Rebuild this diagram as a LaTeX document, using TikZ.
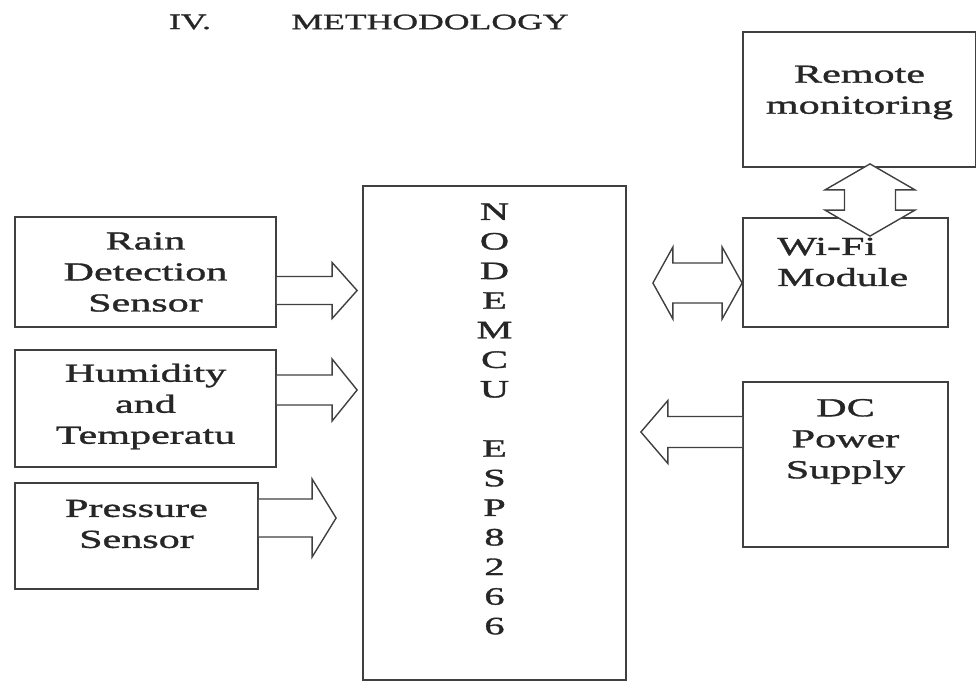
\documentclass[tikz,border=0pt]{standalone}
\usepackage{fontspec}
\setmainfont{Liberation Serif}[FakeStretch=1.62,FakeBold=1.3]
\usetikzlibrary{calc}

\tikzset{
  blk/.style={draw=black!75, line width=1.8pt, inner sep=0pt},
  lbl/.style={align=center, inner sep=0pt, text=black!85,
    font=\fontsize{26}{31}\selectfont},
  fat/.style={draw=black!75, line width=1.4pt, fill=white, line join=miter},
}

% block arrows: #1 tail, #2 tip, #3 half shaft, #4 half head, #5 head length
\newcommand{\rarr}[5]{%
  \draw[fat] let \p1=#1, \p2=#2 in
    (\x1,\y2+#3pt) -- (\x2-#5pt,\y2+#3pt) -- (\x2-#5pt,\y2+#4pt) -- (\x2,\y2)
    -- (\x2-#5pt,\y2-#4pt) -- (\x2-#5pt,\y2-#3pt) -- (\x1,\y2-#3pt);}
\newcommand{\larr}[5]{%
  \draw[fat] let \p1=#1, \p2=#2 in
    (\x1,\y2+#3pt) -- (\x2+#5pt,\y2+#3pt) -- (\x2+#5pt,\y2+#4pt) -- (\x2,\y2)
    -- (\x2+#5pt,\y2-#4pt) -- (\x2+#5pt,\y2-#3pt) -- (\x1,\y2-#3pt);}
% double arrows: #1 and #2 are the two tips
\newcommand{\harr}[5]{%
  \draw[fat] let \p1=#1, \p2=#2 in
    (\x1,\y2) -- (\x1+#5pt,\y2+#4pt) -- (\x1+#5pt,\y2+#3pt) -- (\x2-#5pt,\y2+#3pt)
    -- (\x2-#5pt,\y2+#4pt) -- (\x2,\y2) -- (\x2-#5pt,\y2-#4pt) -- (\x2-#5pt,\y2-#3pt)
    -- (\x1+#5pt,\y2-#3pt) -- (\x1+#5pt,\y2-#4pt) -- cycle;}
\newcommand{\varr}[5]{%
  \draw[fat] let \p1=#1, \p2=#2 in
    (\x1,\y1) -- (\x1+#4pt,\y1-#5pt) -- (\x1+#3pt,\y1-#5pt) -- (\x1+#3pt,\y2+#5pt)
    -- (\x1+#4pt,\y2+#5pt) -- (\x1,\y2) -- (\x1-#4pt,\y2+#5pt) -- (\x1-#3pt,\y2+#5pt)
    -- (\x1-#3pt,\y1-#5pt) -- (\x1-#4pt,\y1-#5pt) -- cycle;}

\begin{document}
\begin{tikzpicture}[x=1pt,y=-1pt]
\useasboundingbox (0,0) rectangle (976,683);

% heading
\node[lbl, font=\fontsize{22}{26}\selectfont] (secno) at (190,22) {IV.};
\node[lbl, font=\fontsize{22}{26}\selectfont] (sectitle) at (430,22) {METHODOLOGY};

% sensors
\node[blk, minimum width=261, minimum height=110] (rain) at (145.5,272) {};
\node[lbl] (rainT) at (rain.center) {Rain\\Detection\\Sensor};
\node[blk, minimum width=261, minimum height=117] (humid) at (145.5,408.5) {};
\node[lbl] (humidT) at ([yshift=2pt]humid.center) {Humidity\\and\\Temperatu};
\node[blk, minimum width=243, minimum height=106] (press) at (136.5,536) {};
\node[lbl] (pressT) at ([yshift=12pt]press.center) {Pressure\\Sensor};

% controller
\node[blk, minimum width=263, minimum height=494] (mcu) at (494.5,433) {};
\node[lbl, font=\fontsize{25}{29.6}\selectfont] (mcuT) at ([yshift=14pt]mcu.center)
  {N\\O\\D\\E\\M\\C\\U\\[29.6pt]E\\S\\P\\8\\2\\6\\6};

% right side
\node[blk, minimum width=233, minimum height=135] (remote) at (859.5,99.5) {};
\node[lbl] (remoteT) at ([yshift=7pt]remote.center) {Remote\\monitoring};
\node[blk, minimum width=205, minimum height=109] (wifi) at (845.5,272.5) {};
\node[lbl, align=left, anchor=west] (wifiT) at (777,262) {Wi-Fi\\Module};
\node[blk, minimum width=205, minimum height=165] (dc) at (845.5,464.5) {};
\node[lbl] (dcT) at ([yshift=23pt]dc.center) {DC\\Power\\Supply};

% links
\coordinate (r1) at ([yshift=-18.5pt]rain.east);
\coordinate (h1) at ([yshift=18.5pt]humid.east);
\coordinate (p1) at ([yshift=18pt]press.east);
\coordinate (w1) at ([yshift=-10.5pt]wifi.west);
\coordinate (d1) at ([yshift=32.5pt]dc.west);
\rarr{(r1)}{($(mcu.west |- r1)+(-5,0)$)}{14}{28}{25}
\rarr{(h1)}{($(mcu.west |- h1)+(-5,0)$)}{15}{31}{25}
\rarr{(p1)}{($(mcu.west |- p1)+(-26,0)$)}{19}{39}{24}
\harr{($(mcu.east |- w1)+(26,0)$)}{(w1)}{20}{36}{20}
\larr{(d1)}{($(mcu.east |- d1)+(14,0)$)}{15.5}{31.5}{27}
\varr{([xshift=10.5pt,yshift=4pt]remote.south)}{([xshift=24.5pt,yshift=-19pt]wifi.north)}{25.5}{45}{26}
\end{tikzpicture}
\end{document}
